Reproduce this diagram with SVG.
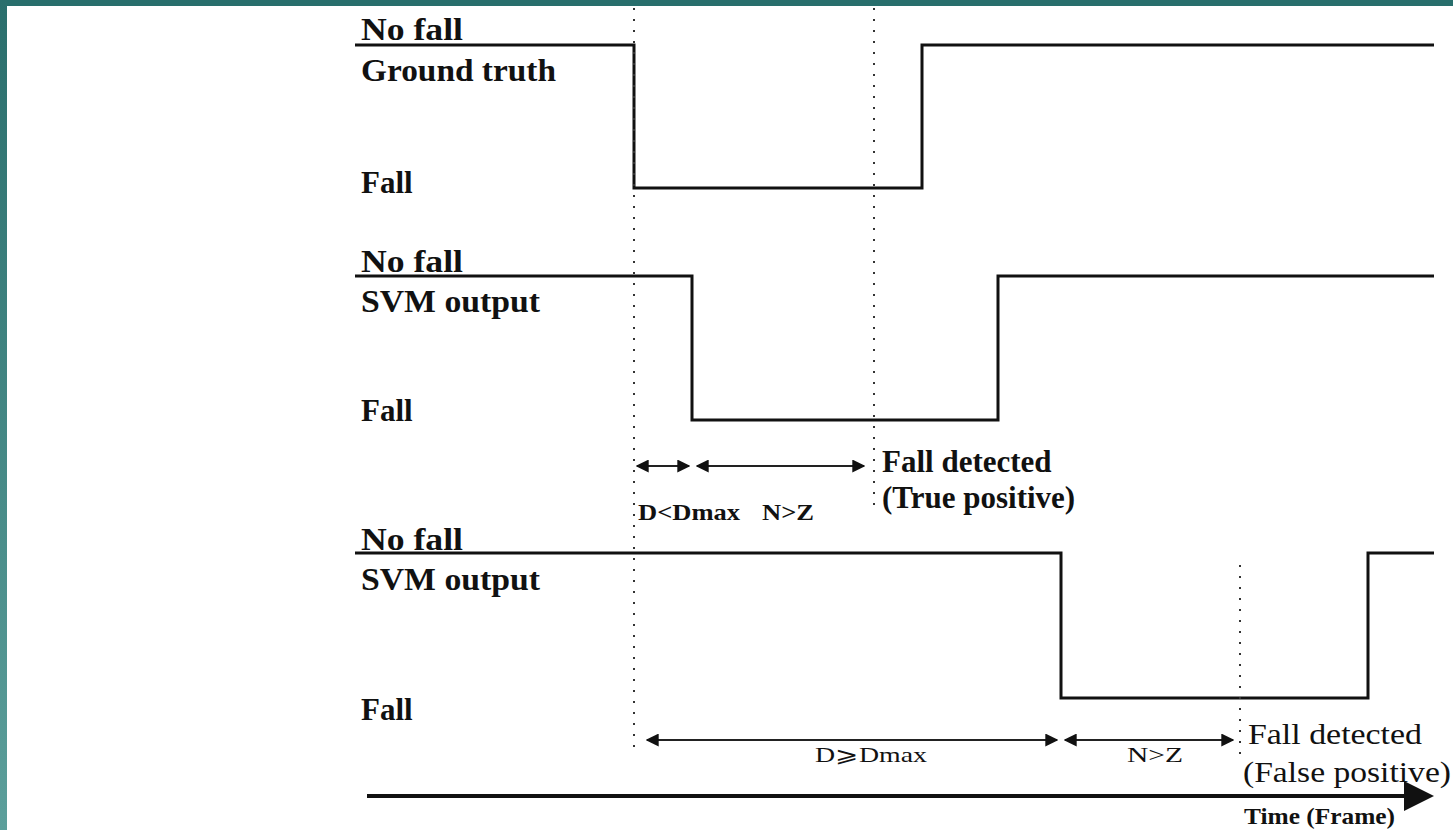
<svg xmlns="http://www.w3.org/2000/svg" width="1453" height="830" viewBox="0 0 1453 830">
<defs>
<linearGradient id="lb" x1="0" y1="0" x2="0" y2="1">
<stop offset="0" stop-color="#2a6e6c"/>
<stop offset="1" stop-color="#5c9f9b"/>
</linearGradient>
<marker id="ah" viewBox="0 0 10 10" refX="9" refY="5" markerWidth="6.5" markerHeight="6.5" orient="auto-start-reverse" markerUnits="strokeWidth">
<path d="M0,0 L10,5 L0,10 z" fill="#111"/>
</marker>
<style>
.sig{fill:none;stroke:#111;stroke-width:3}
.dot{fill:none;stroke:#333;stroke-width:2;stroke-dasharray:2 9}
.dim{fill:none;stroke:#222;stroke-width:2;marker-start:url(#ah);marker-end:url(#ah)}
.lb{font-family:"Liberation Serif",serif;font-weight:bold;font-size:31px;fill:#111}
.sm{font-family:"Liberation Serif",serif;font-weight:bold;font-size:24px;fill:#111}
.rg{font-family:"Liberation Serif",serif;font-size:30px;fill:#111}
.rs{font-family:"Liberation Serif",serif;font-size:21px;fill:#111}
</style>
</defs>
<rect width="1453" height="830" fill="#fff"/>
<rect x="0" y="0" width="1453" height="6" fill="#286e6c"/>
<rect x="0" y="0" width="7" height="830" fill="url(#lb)"/>

<g id="ground-truth">
<path class="sig" d="M355,45 H634 V188 H922 V45 H1434"/>
<text class="lb" x="361" y="40" textLength="102" lengthAdjust="spacingAndGlyphs">No fall</text>
<text class="lb" x="361" y="81" textLength="195" lengthAdjust="spacingAndGlyphs">Ground truth</text>
<text class="lb" x="361" y="193">Fall</text>
</g>

<g id="svm-output-1">
<path class="sig" d="M355,276 H692 V420 H998 V276 H1434"/>
<text class="lb" x="361" y="272" textLength="102" lengthAdjust="spacingAndGlyphs">No fall</text>
<text class="lb" x="361" y="312" textLength="179" lengthAdjust="spacingAndGlyphs">SVM output</text>
<text class="lb" x="361" y="421">Fall</text>
</g>

<g id="svm-output-2">
<path class="sig" d="M355,553 H1061 V698 H1368 V553 H1434"/>
<text class="lb" x="361" y="550" textLength="102" lengthAdjust="spacingAndGlyphs">No fall</text>
<text class="lb" x="361" y="590" textLength="179" lengthAdjust="spacingAndGlyphs">SVM output</text>
<text class="lb" x="361" y="720">Fall</text>
</g>

<g id="connectors">
<line class="dot" x1="634" y1="8" x2="634" y2="752"/>
<line class="dot" x1="874" y1="8" x2="874" y2="512"/>
<line class="dot" x1="1240" y1="565" x2="1240" y2="762"/>
<line class="dim" x1="637" y1="466" x2="689" y2="466"/>
<line class="dim" x1="697" y1="466" x2="864" y2="466"/>
<line class="dim" x1="647" y1="740" x2="1057" y2="740"/>
<line class="dim" x1="1065" y1="740" x2="1233" y2="740"/>
<line x1="367" y1="796" x2="1410" y2="796" stroke="#111" stroke-width="4"/>
<polygon points="1404,781 1434,796 1404,811" fill="#111"/>
</g>

<g id="true-positive">
<text class="lb" x="882" y="472">Fall detected</text>
<text class="lb" x="882" y="508">(True positive)</text>
<text class="sm" x="638" y="520" textLength="102" lengthAdjust="spacingAndGlyphs">D&lt;Dmax</text>
<text class="sm" x="762" y="520" textLength="52" lengthAdjust="spacingAndGlyphs">N&gt;Z</text>
</g>

<g id="false-positive">
<text class="rg" x="1248" y="744" textLength="174" lengthAdjust="spacingAndGlyphs">Fall detected</text>
<text class="rg" x="1243" y="782" textLength="208" lengthAdjust="spacingAndGlyphs">(False positive)</text>
<text class="rs" x="815" y="762" textLength="112" lengthAdjust="spacingAndGlyphs">D⩾Dmax</text>
<text class="rs" x="1127" y="762" textLength="56" lengthAdjust="spacingAndGlyphs">N&gt;Z</text>
</g>

<g id="time-axis">
<text class="sm" x="1244" y="824" textLength="151" lengthAdjust="spacingAndGlyphs" font-size="20">Time (Frame)</text>
</g>
</svg>
